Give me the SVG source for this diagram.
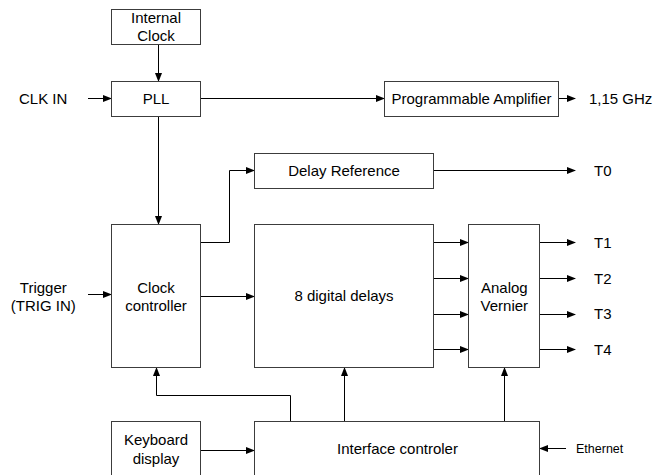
<svg xmlns="http://www.w3.org/2000/svg" width="653" height="475" viewBox="0 0 653 475">
<style>
.box{fill:#fff;stroke:#3c3c3c;stroke-width:1}
.t{font-family:"Liberation Sans",Arial,sans-serif;font-size:15px;fill:#000}
.m{text-anchor:middle}
.s{font-size:12.5px}
.c{fill:none;stroke:#000;stroke-width:1}
</style>
<defs>
<marker id="a" markerUnits="userSpaceOnUse" markerWidth="9" markerHeight="7" refX="8" refY="3.5" orient="auto">
<path d="M0,0 L9,3.5 L0,7 z" fill="#000"/>
</marker>
</defs>
<rect width="653" height="475" fill="#fff"/>
<g id="connectors" class="c">
<path class="c" d="M158.5,45 V81" marker-end="url(#a)"/>
<path class="c" d="M88,98.5 H111" marker-end="url(#a)"/>
<path class="c" d="M201,98.5 H384" marker-end="url(#a)"/>
<path class="c" d="M559,98.5 H575" marker-end="url(#a)"/>
<path class="c" d="M158.5,117 V224" marker-end="url(#a)"/>
<path class="c" d="M201,242.5 H229.5 V170.5 H254" marker-end="url(#a)"/>
<path class="c" d="M434,170.5 H575" marker-end="url(#a)"/>
<path class="c" d="M88,294.5 H111" marker-end="url(#a)"/>
<path class="c" d="M201,296.5 H254" marker-end="url(#a)"/>
<path class="c" d="M434,242.5 H468" marker-end="url(#a)"/>
<path class="c" d="M434,278.5 H468" marker-end="url(#a)"/>
<path class="c" d="M434,314.5 H468" marker-end="url(#a)"/>
<path class="c" d="M434,349.5 H468" marker-end="url(#a)"/>
<path class="c" d="M540,242.5 H575" marker-end="url(#a)"/>
<path class="c" d="M540,278.5 H575" marker-end="url(#a)"/>
<path class="c" d="M540,314.5 H575" marker-end="url(#a)"/>
<path class="c" d="M540,349.5 H575" marker-end="url(#a)"/>
<path class="c" d="M201,450.5 H254" marker-end="url(#a)"/>
<path class="c" d="M290.5,421 V395.5 H156.5 V368" marker-end="url(#a)"/>
<path class="c" d="M344.5,421 V368" marker-end="url(#a)"/>
<path class="c" d="M504.5,421 V368" marker-end="url(#a)"/>
<path class="c" d="M566,448.5 H540" marker-end="url(#a)"/>
</g>
<g id="internal-clock"><rect class="box" x="111.5" y="9.5" width="89" height="35"/><text class="t m" x="156" y="23">Internal</text><text class="t m" x="156" y="41">Clock</text></g>
<g id="pll"><rect class="box" x="111.5" y="81.5" width="89" height="35"/><text class="t m" x="156" y="104.3">PLL</text></g>
<g id="prog-amp"><rect class="box" x="384.5" y="81.5" width="174" height="35"/><text class="t m" x="471.5" y="104.3">Programmable Amplifier</text></g>
<g id="delay-ref"><rect class="box" x="254.5" y="153.5" width="179" height="35"/><text class="t m" x="344" y="176">Delay Reference</text></g>
<g id="clock-controller"><rect class="box" x="111.5" y="224.5" width="89" height="143"/><text class="t m" x="156" y="292.7">Clock</text><text class="t m" x="156" y="310.7">controller</text></g>
<g id="digital-delays"><rect class="box" x="254.5" y="224.5" width="179" height="143"/><text class="t m" x="344" y="301.4">8 digital delays</text></g>
<g id="analog-vernier"><rect class="box" x="468.5" y="224.5" width="71" height="143"/><text class="t m" x="504.3" y="292.7">Analog</text><text class="t m" x="504.3" y="310.7">Vernier</text></g>
<g id="keyboard-display"><rect class="box" x="111.5" y="421.5" width="89" height="60"/><text class="t m" x="156" y="445.4">Keyboard</text><text class="t m" x="156" y="463.7">display</text></g>
<g id="interface-controler"><rect class="box" x="254.5" y="421.5" width="285" height="60"/><text class="t m" x="397.5" y="453.7">Interface controler</text></g>
<g id="labels">
<text class="t" x="19" y="104.3">CLK IN</text>
<text class="t" x="589" y="104.3">1,15 GHz</text>
<text class="t" x="594" y="176">T0</text>
<text class="t m" x="43.3" y="292.7">Trigger</text>
<text class="t m" x="43.3" y="310.7">(TRIG IN)</text>
<text class="t" x="594" y="247.7">T1</text>
<text class="t" x="594" y="283.7">T2</text>
<text class="t" x="594" y="319.4">T3</text>
<text class="t" x="594" y="354.7">T4</text>
<text class="t s" x="576" y="452.8">Ethernet</text>
</g>
</svg>
